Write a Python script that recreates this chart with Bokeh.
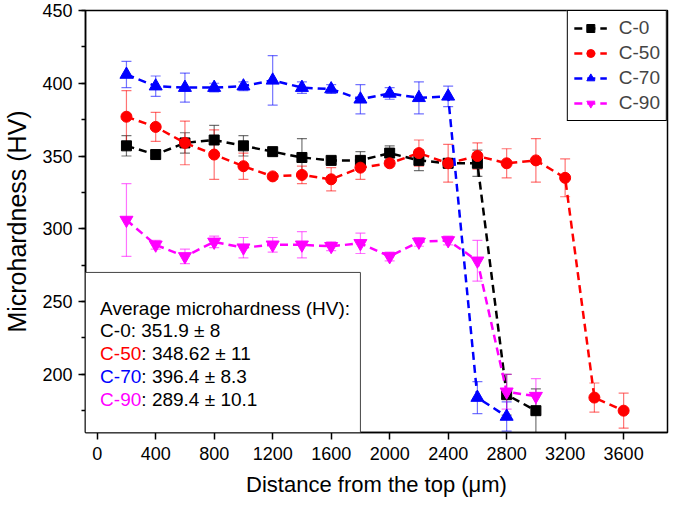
import numpy as np
from bokeh.plotting import figure
from bokeh.models import (ColumnDataSource, Whisker, TeeHead, Legend, LegendItem,
                          BoxAnnotation, Label, SingleIntervalTicker, Range1d)
from bokeh.embed import file_html
from bokeh.resources import INLINE

# ---------------- data ----------------
series_names = ["C-0", "C-50", "C-70", "C-90"]

x_c0 = [200, 400, 600, 800, 1000, 1200, 1400, 1600, 1800, 2000, 2200, 2400, 2600, 2800, 3000]
y_c0 = [357, 351, 359, 361, 357, 353, 349, 347, 347, 352, 347, 345, 345, 186, 175]
e_c0 = [7, 3, 7, 10, 7, 2, 13, 2, 6, 5, 7, 3, 9, 14, 15]

x_c50 = [200, 400, 600, 800, 1000, 1200, 1400, 1600, 1800, 2000, 2200, 2400, 2600, 2800, 3000, 3200, 3400, 3600]
y_c50 = [377, 370, 359, 351, 343, 336, 337, 334, 342, 345, 352, 345, 350, 345, 347, 335, 184, 175]
e_c50 = [18, 10, 15, 17, 9, 2, 6, 8, 8, 2, 9, 13, 9, 10, 15, 13, 10, 12]

x_c70 = [200, 400, 600, 800, 1000, 1200, 1400, 1600, 1800, 2000, 2200, 2400, 2600, 2800]
y_c70 = [406, 398, 397, 397, 398, 402, 397, 396, 389, 393, 390, 391, 184, 171]
e_c70 = [9, 7, 10, 3, 3, 17, 4, 3, 10, 4, 11, 7, 11, 10]

x_c90 = [200, 400, 600, 800, 1000, 1200, 1400, 1600, 1800, 2000, 2200, 2400, 2600, 2800, 3000]
y_c90 = [306, 289, 281, 291, 287, 289, 289, 288, 290, 281, 291, 292, 278, 188, 185]
e_c90 = [25, 3, 5, 4, 7, 5, 9, 3, 7, 3, 3, 3, 14, 12, 12]

avg_title = "Average microhardness (HV):"
avg_values = ["351.9 \u00b1 8", "348.62 \u00b1 11", "396.4 \u00b1 8.3", "289.4 \u00b1 10.1"]

x_ticks_interval = 400
y_ticks_interval = 50

# ---------------- styles ----------------
FONT = "Liberation Sans"
colors = ["#000000", "#ff0000", "#0000ff", "#ff00ff"]
markers = ["square", "circle", "triangle", "inverted_triangle"]
msizes = [10, 11, 13, 13]

p = figure(width=669, height=499, output_backend="svg", toolbar_location=None,
           x_range=Range1d(-80, 3900), y_range=Range1d(160, 450),
           min_border_left=82, min_border_right=2, min_border_top=10, min_border_bottom=0)

p.xgrid.visible = False
p.ygrid.visible = False
p.outline_line_color = "black"
p.outline_line_width = 1.5
p.outline_line_alpha = 1.0

p.xaxis.ticker = SingleIntervalTicker(interval=x_ticks_interval, num_minor_ticks=0)
p.yaxis.ticker = SingleIntervalTicker(interval=y_ticks_interval, num_minor_ticks=2)

for ax in (p.xaxis[0], p.yaxis[0]):
    ax.axis_line_width = 1.5
    ax.axis_line_color = "black"
    ax.major_tick_line_width = 1.5
    ax.minor_tick_line_width = 1.5
    ax.major_tick_in = 0
    ax.major_tick_out = 7
    ax.minor_tick_in = 0
    ax.minor_tick_out = 4
    ax.major_label_text_font = FONT
    ax.major_label_text_font_size = "18px"
    ax.major_label_text_color = "black"
    ax.axis_label_text_font = FONT
    ax.axis_label_text_font_style = "normal"
    ax.axis_label_text_color = "black"

p.xaxis.minor_tick_line_color = None
p.xaxis.major_label_standoff = 7
p.yaxis.major_label_standoff = 6
p.xaxis.axis_label = "Distance from the top (\u03bcm)"
p.yaxis.axis_label = "Microhardness (HV)"
p.xaxis.axis_label_text_font_size = "22px"
p.yaxis.axis_label_text_font_size = "25px"
p.xaxis.axis_label_standoff = 9
p.yaxis.axis_label_standoff = 8

xs = [x_c0, x_c50, x_c70, x_c90]
ys = [y_c0, y_c50, y_c70, y_c90]
es = [e_c0, e_c50, e_c70, e_c90]

items = []
for name, xv, yv, ev, c, m, s in zip(series_names, xs, ys, es, colors, markers, msizes):
    yarr = np.array(yv, dtype=float)
    earr = np.array(ev, dtype=float)
    src = ColumnDataSource(dict(x=xv, y=yv, upper=yarr + earr, lower=yarr - earr))
    w = Whisker(source=src, base="x", upper="upper", lower="lower",
                line_color=c, line_alpha=0.55, line_width=1.2,
                upper_head=TeeHead(size=10, line_color=c, line_alpha=0.55, line_width=1.2),
                lower_head=TeeHead(size=10, line_color=c, line_alpha=0.55, line_width=1.2))
    p.add_layout(w)
    ln = p.line("x", "y", source=src, line_color=c, line_width=2.5, line_dash="8 5")
    sc = p.scatter("x", "y", source=src, marker=m, size=s, fill_color=c, line_color=c)
    items.append(LegendItem(label=name, renderers=[ln, sc]))

legend = Legend(items=items, location="top_right")
legend.border_line_color = "black"
legend.border_line_width = 1
legend.border_line_alpha = 1
legend.margin = 0
legend.padding = 6
legend.spacing = 3
legend.label_height = 20
legend.glyph_height = 20
legend.glyph_width = 33
legend.label_standoff = 12
legend.label_text_font = FONT
legend.label_text_font_size = "19px"
legend.background_fill_alpha = 1
p.add_layout(legend)

# text box with averages
box = BoxAnnotation(left=-80, right=1800, bottom=160, top=270,
                    fill_color="white", fill_alpha=1.0,
                    line_color="#444444", line_width=1, line_alpha=1)
p.add_layout(box)

text_x = 20
text_y = [245.5, 229.8, 214.2, 198.5, 182.8]
p.add_layout(Label(x=text_x, y=text_y[0], text=avg_title, text_font=FONT,
                   text_font_size="19px", text_baseline="middle", text_color="black"))
name_width = {"C-0": 0, "C-50": 41.2, "C-70": 41.2, "C-90": 41.2}
for i, (name, val, c) in enumerate(zip(series_names, avg_values, colors)):
    yy = text_y[i + 1]
    if name == "C-0":
        p.add_layout(Label(x=text_x, y=yy, text=name + ": " + val, text_font=FONT,
                           text_font_size="19px", text_baseline="middle", text_color="black"))
    else:
        p.add_layout(Label(x=text_x, y=yy, text=name, text_font=FONT,
                           text_font_size="19px", text_baseline="middle", text_color=c))
        p.add_layout(Label(x=text_x, y=yy, x_offset=name_width[name], text=": " + val,
                           text_font=FONT, text_font_size="19px", text_baseline="middle",
                           text_color="black"))

open("out.html", "w").write(file_html(p, INLINE))
